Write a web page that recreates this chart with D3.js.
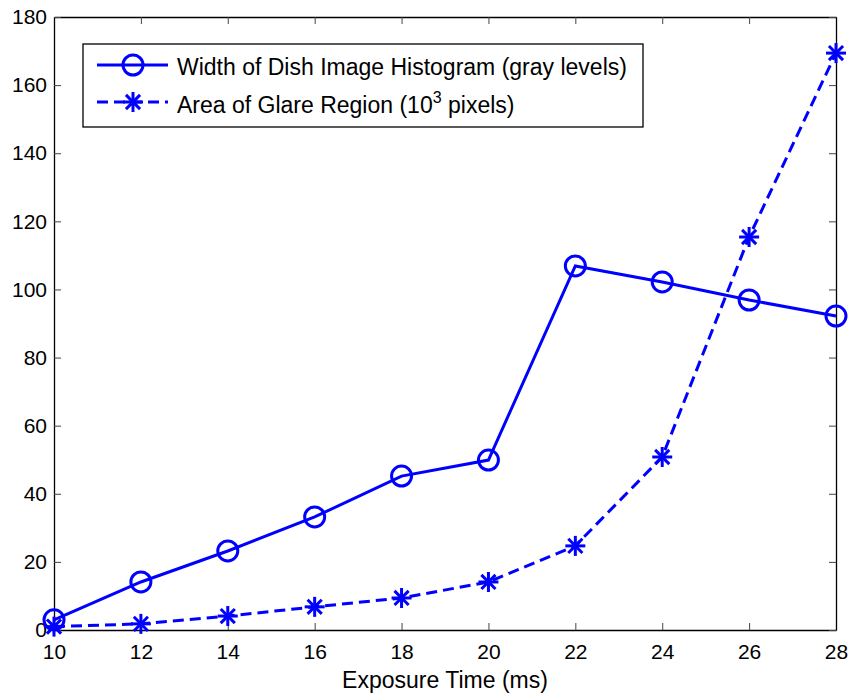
<!DOCTYPE html>
<html>
<head>
<meta charset="utf-8">
<script src="https://cdnjs.cloudflare.com/ajax/libs/d3/7.8.5/d3.min.js"></script>
<style>
  body { margin: 0; background: #fff; }
  text { font-family: "Liberation Sans", Arial, sans-serif; }
</style>
</head>
<body>
<div id="wrapper"></div>
<script>
// data
const exposure = [10, 12, 14, 16, 18, 20, 22, 24, 26, 28];
const histWidth = [3, 14.1, 23.2, 33.2, 45.2, 49.9, 106.9, 102.2, 96.9, 92.2];
const glareArea = [1, 1.8, 4.1, 6.8, 9.4, 14.1, 24.7, 50.8, 115.4, 169.4];
const xTicks = [10, 12, 14, 16, 18, 20, 22, 24, 26, 28];
const yTicks = [0, 20, 40, 60, 80, 100, 120, 140, 160, 180];
const legendLabels = ["Width of Dish Image Histogram (gray levels)", "Area of Glare Region ("];

const blue = "#0000ff";

let dimensions = {
	width: 853,
	height: 698,
	margin: { top: 17, right: 17, bottom: 68, left: 54 }
};
dimensions.boundedWidth = dimensions.width - dimensions.margin.left - dimensions.margin.right;
dimensions.boundedHeight = dimensions.height - dimensions.margin.top - dimensions.margin.bottom;

const svg = d3.select("#wrapper").append("svg")
	.attr("width", dimensions.width)
	.attr("height", dimensions.height);

const bounds = svg.append("g")
	.attr("transform", `translate(${dimensions.margin.left},${dimensions.margin.top})`);

const xScale = d3.scaleLinear().domain([10, 28]).range([0, dimensions.boundedWidth]);
const yScale = d3.scaleLinear().domain([0, 180]).range([dimensions.boundedHeight, 0]);

// axes, matlab style: inward ticks on all four sides
const tickLen = 7;
const xAxis = bounds.append("g")
	.attr("transform", `translate(0,${dimensions.boundedHeight})`)
	.call(d3.axisBottom(xScale).tickValues(xTicks).tickSizeInner(-tickLen).tickSizeOuter(0).tickPadding(14));
const xAxisTop = bounds.append("g")
	.call(d3.axisTop(xScale).tickValues(xTicks).tickSizeInner(-tickLen).tickSizeOuter(0).tickFormat(""));
const yAxis = bounds.append("g")
	.call(d3.axisLeft(yScale).tickValues(yTicks).tickSizeInner(-tickLen).tickSizeOuter(0).tickPadding(7));
const yAxisRight = bounds.append("g")
	.attr("transform", `translate(${dimensions.boundedWidth},0)`)
	.call(d3.axisRight(yScale).tickValues(yTicks).tickSizeInner(-tickLen).tickSizeOuter(0).tickFormat(""));

bounds.selectAll(".domain").attr("stroke", "#000").attr("stroke-width", 1.3);
bounds.selectAll(".tick line").attr("stroke", "#444").attr("stroke-width", 1);
bounds.selectAll(".tick text")
	.attr("fill", "#000")
	.style("font-size", "21px")
	.style("font-family", "'Liberation Sans', Arial, sans-serif");

svg.append("text")
	.attr("x", dimensions.margin.left + dimensions.boundedWidth / 2)
	.attr("y", 688)
	.attr("text-anchor", "middle")
	.style("font-size", "23px")
	.text("Exposure Time (ms)");

// lines
const histData = exposure.map((x, i) => ({ x: x, y: histWidth[i] }));
const glareData = exposure.map((x, i) => ({ x: x, y: glareArea[i] }));

const lineGenerator = d3.line()
	.x(d => xScale(d.x))
	.y(d => yScale(d.y));

bounds.append("path")
	.attr("d", lineGenerator(glareData))
	.attr("fill", "none")
	.attr("stroke", blue)
	.attr("stroke-width", 3)
	.attr("stroke-dasharray", "11,6");

bounds.append("path")
	.attr("d", lineGenerator(histData))
	.attr("fill", "none")
	.attr("stroke", blue)
	.attr("stroke-width", 3);

// markers
function drawStar(g, cx, cy, r) {
	const angles = [0, 45, 90, 135];
	angles.forEach(a => {
		const rad = a * Math.PI / 180;
		g.append("line")
			.attr("x1", cx - r * Math.cos(rad)).attr("y1", cy - r * Math.sin(rad))
			.attr("x2", cx + r * Math.cos(rad)).attr("y2", cy + r * Math.sin(rad))
			.attr("stroke", blue).attr("stroke-width", 3);
	});
}

bounds.selectAll("circle.hist")
	.data(histData)
	.join("circle")
	.attr("class", "hist")
	.attr("cx", d => xScale(d.x))
	.attr("cy", d => yScale(d.y))
	.attr("r", 10)
	.attr("fill", "none")
	.attr("stroke", blue)
	.attr("stroke-width", 3);

const starGroup = bounds.append("g");
glareData.forEach(d => drawStar(starGroup, xScale(d.x), yScale(d.y), 10));

// legend
const legend = svg.append("g");
legend.append("rect")
	.attr("x", 83).attr("y", 44)
	.attr("width", 560).attr("height", 83)
	.attr("fill", "#fff")
	.attr("stroke", "#000")
	.attr("stroke-width", 1.3);

legend.append("line")
	.attr("x1", 97).attr("x2", 168).attr("y1", 65).attr("y2", 65)
	.attr("stroke", blue).attr("stroke-width", 3);
legend.append("circle")
	.attr("cx", 133).attr("cy", 65).attr("r", 10)
	.attr("fill", "none").attr("stroke", blue).attr("stroke-width", 3);

legend.append("line")
	.attr("x1", 97).attr("x2", 168).attr("y1", 102).attr("y2", 102)
	.attr("stroke", blue).attr("stroke-width", 3)
	.attr("stroke-dasharray", "11,6");
drawStar(legend, 133, 102, 10);

legend.append("text")
	.attr("x", 177).attr("y", 75)
	.style("font-size", "23px")
	.text(legendLabels[0]);

const t2 = legend.append("text")
	.attr("x", 177).attr("y", 113)
	.style("font-size", "23px");
t2.append("tspan").text(legendLabels[1] + "10");
t2.append("tspan").attr("dy", -10).style("font-size", "16px").text("3");
t2.append("tspan").attr("dy", 10).text(" pixels)");
</script>
</body>
</html>
